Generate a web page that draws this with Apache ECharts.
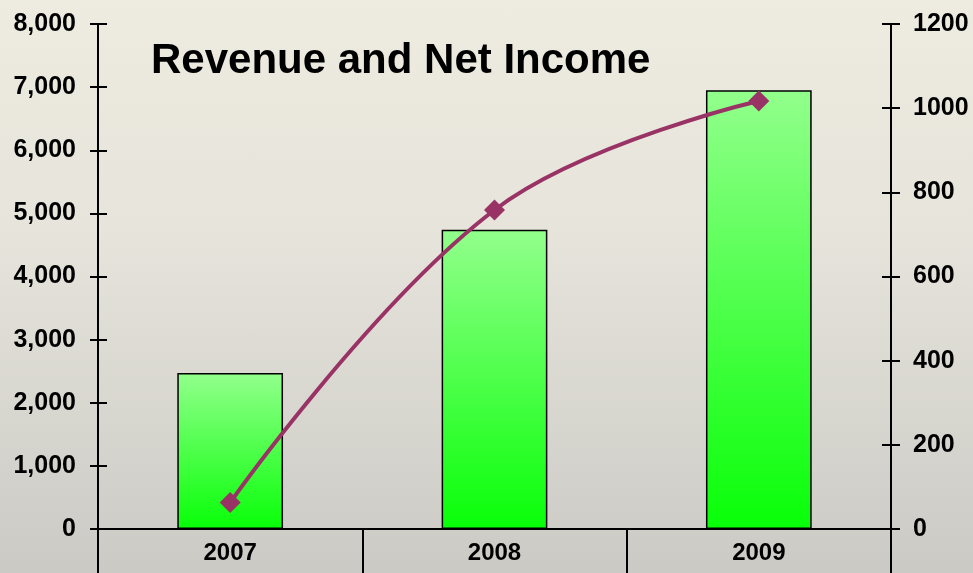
<!DOCTYPE html>
<html>
<head>
<meta charset="utf-8">
<script src="https://cdn.jsdelivr.net/npm/echarts@6/dist/echarts.min.js"></script>
<style>
html,body{margin:0;padding:0;}
#chart{width:973px;height:573px;background:linear-gradient(to bottom,#EEEBE0 0%,#E6E4DB 40%,#CBCAC5 100%);}
</style>
</head>
<body>
<div id="chart"></div>
<script>
var categories = ['2007', '2008', '2009'];
var revenue = [2470, 4740, 6950];
var netIncome = [63, 758, 1017];
var leftTicks = [0, 1000, 2000, 3000, 4000, 5000, 6000, 7000, 8000];
var rightTicks = [0, 200, 400, 600, 800, 1000, 1200];

var FONT = '"Liberation Sans", Arial, sans-serif';
var chart = echarts.init(document.getElementById('chart'));
function fmtComma(v){ return String(v).replace(/\B(?=(\d{3})+(?!\d))/g, ','); }
var leftMin = leftTicks[0], leftMax = leftTicks[leftTicks.length-1], leftInt = leftTicks[1]-leftTicks[0];
var rightMin = rightTicks[0], rightMax = rightTicks[rightTicks.length-1], rightInt = rightTicks[1]-rightTicks[0];
var axisLineStyle = {color:'#000', width:2};
chart.setOption({
  animation:false,
  title:{text:'Revenue and Net Income', left:146, top:35, textStyle:{fontFamily:FONT, fontWeight:'bold', fontSize:42, color:'#000'}},
  grid:{left:98, right:82, top:24, bottom:44, containLabel:false},
  xAxis:{type:'category', data:categories, boundaryGap:true,
    axisLine:{lineStyle:axisLineStyle},
    axisTick:{show:true, alignWithLabel:false, interval:0, length:50, lineStyle:axisLineStyle},
    axisLabel:{fontFamily:FONT, fontWeight:'bold', fontSize:24, color:'#000', margin:12}
  },
  yAxis:[
    {type:'value', position:'left', min:leftMin, max:leftMax, interval:leftInt,
      axisLine:{show:true, lineStyle:axisLineStyle}, axisTick:{show:true, length:8, lineStyle:axisLineStyle},
      splitLine:{show:false},
      axisLabel:{fontFamily:FONT, fontWeight:'bold', fontSize:25, color:'#000', margin:22, formatter:fmtComma}},
    {type:'value', position:'right', min:rightMin, max:rightMax, interval:rightInt,
      axisLine:{show:true, lineStyle:axisLineStyle}, axisTick:{show:true, length:9, lineStyle:axisLineStyle},
      splitLine:{show:false},
      axisLabel:{fontFamily:FONT, fontWeight:'bold', fontSize:25, color:'#000', margin:22, formatter:function(v){return String(v);}}},
    {type:'value', position:'left', min:leftMin, max:leftMax, interval:leftInt,
      axisLine:{show:false}, axisTick:{show:true, inside:true, length:9, lineStyle:axisLineStyle},
      splitLine:{show:false}, axisLabel:{show:false}},
    {type:'value', position:'right', min:rightMin, max:rightMax, interval:rightInt,
      axisLine:{show:false}, axisTick:{show:true, inside:true, length:9, lineStyle:axisLineStyle},
      splitLine:{show:false}, axisLabel:{show:false}}
  ],
  series:[
    {name:'Revenue', type:'bar', yAxisIndex:0, data:revenue, barWidth:'40%',
      itemStyle:{borderColor:'#000', borderWidth:1.5,
        color:new echarts.graphic.LinearGradient(0,0,0,1,[{offset:0,color:'#92FF8C'},{offset:1,color:'#08FF08'}])}},
    {name:'Net Income', type:'line', yAxisIndex:1, data:netIncome, smooth:0.4,
      symbol:'diamond', symbolSize:21, z:5,
      lineStyle:{color:'#993366', width:4},
      itemStyle:{color:'#993366'}}
  ]
});
</script>
</body>
</html>
